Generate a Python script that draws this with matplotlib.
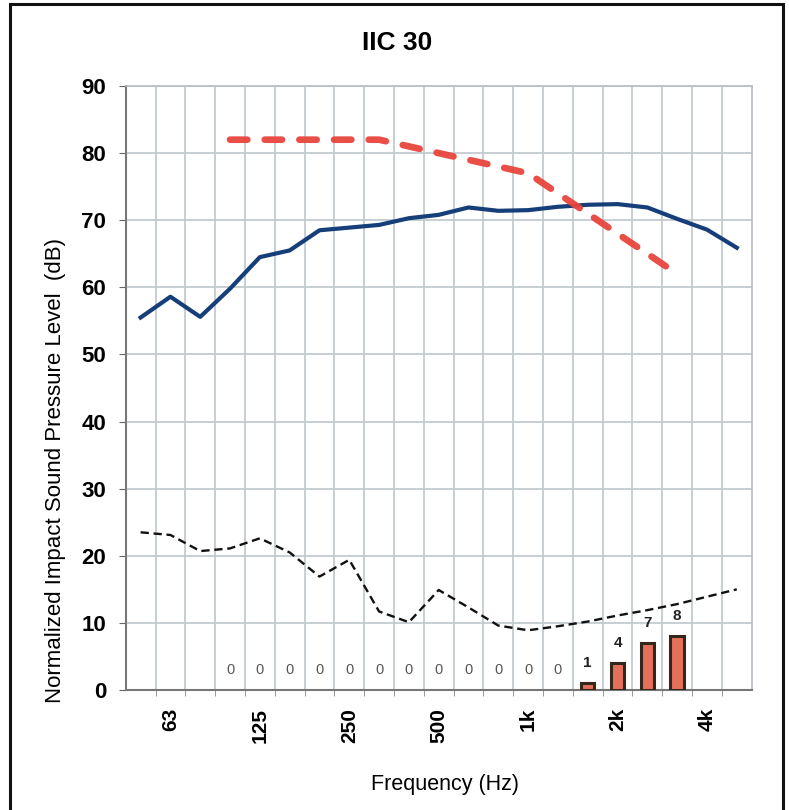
import matplotlib
matplotlib.use("Agg")
import matplotlib.pyplot as plt
from matplotlib.patches import Rectangle
import numpy as np

plt.rcParams['font.family'] = ['Liberation Sans', 'DejaVu Sans']

# 1/3-octave band centre frequencies (Hz)
bands = ["50", "63", "80", "100", "125", "160", "200", "250", "315", "400",
         "500", "630", "800", "1k", "1.25k", "1.6k", "2k", "2.5k", "3.15k", "4k", "5k"]
tick_labels = {"63": "63", "125": "125", "250": "250", "500": "500",
               "1k": "1k", "2k": "2k", "4k": "4k"}

# Measured normalized impact sound pressure level (dB)
measured = [55.5, 58.6, 55.6, 59.8, 64.5, 65.5, 68.5, 68.9, 69.3, 70.3,
            70.8, 71.9, 71.4, 71.5, 72.0, 72.3, 72.4, 71.9, 70.2, 68.6, 65.9]

# Background / dashed black curve (dB)
background = [23.5, 23.1, 20.7, 21.1, 22.6, 20.5, 16.9, 19.4, 11.7, 10.1,
              14.9, 12.3, 9.6, 8.9, 9.5, 10.2, 11.1, 11.9, 12.8, 13.9, 15.0]

# IIC 30 reference contour, 100 Hz - 3150 Hz
contour_bands = ["100", "125", "160", "200", "250", "315", "400", "500",
                 "630", "800", "1k", "1.25k", "1.6k", "2k", "2.5k", "3.15k"]
contour = [82, 82, 82, 82, 82, 82, 81, 80, 79, 78, 77, 74, 71, 68, 65, 62]

# Deficiencies (dB)
deficiency = [0, 0, 0, 0, 0, 0, 0, 0, 0, 0, 0, 0, 1, 4, 7, 8]

W, H = 789, 810
fig = plt.figure(figsize=(W / 100, H / 100), dpi=100)
ax = fig.add_axes([125.7 / W, 1 - 690 / H, (751.7 - 125.7) / W, (690 - 86) / H])

x = np.arange(len(bands))
cx = np.array([bands.index(b) for b in contour_bands])

# bars
edge_w = [2.2 if d > 0 else 0 for d in deficiency]
ax.bar(cx, deficiency, width=0.45, color='#e4705c', edgecolor='#34261a',
       linewidth=edge_w, zorder=3)
for xi, d in zip(cx, deficiency):
    if d == 0:
        ax.text(xi, d + 3, "0", ha='center', va='center', fontsize=10.5,
                color='#555555', zorder=5)
    else:
        ax.text(xi, d + 3, str(d), ha='center', va='center', fontsize=11,
                color='#222222', fontweight='bold', zorder=5)

# lines
ax.plot(x, measured, color='#163e78', lw=3.0, zorder=4, solid_joinstyle='round')
ax.plot(cx, contour, color='#e8453c', lw=4.8, linestyle=(0, (2.6, 2.6)),
        dash_capstyle='round', zorder=5, alpha=0.95)
ax.plot(x, background, color='#111111', lw=1.7, linestyle=(0, (3.5, 2.0)),
        zorder=4)

# axes
ax.set_xlim(-0.5, len(bands) - 0.5)
ax.set_ylim(0, 90)
ax.set_yticks(np.arange(0, 91, 10))
ax.set_xticks([bands.index(k) for k in tick_labels])
ax.set_xticklabels(list(tick_labels.values()), rotation=90, fontsize=15,
                   fontweight='bold')
ax.set_xticks(np.arange(0.5, len(bands) - 1, 1.0), minor=True)
ax.tick_params(axis='x', which='major', length=0, pad=13)
ax.tick_params(axis='x', which='minor', length=4, direction='out', color='#888888')
ax.tick_params(axis='y', which='major', length=5, direction='out', color='#666666',
               labelsize=16, pad=9)
for lab in ax.get_yticklabels():
    lab.set_fontweight('bold')

ax.grid(True, axis='x', which='minor', color='#c3cbd0', lw=1.3, zorder=0)
ax.grid(True, axis='y', which='major', color='#c3cbd0', lw=1.3, zorder=0)
ax.set_axisbelow(True)

for side in ['left', 'bottom']:
    ax.spines[side].set_color('#777777')
    ax.spines[side].set_linewidth(1.5)
for side in ['top', 'right']:
    ax.spines[side].set_color('#b5bcc0')
    ax.spines[side].set_linewidth(1.2)

ax.set_ylabel("Normalized Impact Sound Pressure Level  (dB)", fontsize=16)
ax.yaxis.set_label_coords(-0.095, 0.364)
ax.set_xlabel("Frequency (Hz)", fontsize=15.5)
ax.xaxis.set_label_coords(0.51, -0.139)
fig.text(397 / W, 1 - 43 / H, "IIC 30", ha='center', va='center', fontsize=19,
         fontweight='bold')

# outer frame
fig.patches.append(Rectangle((10 / W, -0.02), (783 - 10) / W, 1 - 4 / H + 0.02,
                             transform=fig.transFigure, fill=False,
                             edgecolor='#111111', linewidth=2.2))

fig.savefig("out.png", dpi=100)
